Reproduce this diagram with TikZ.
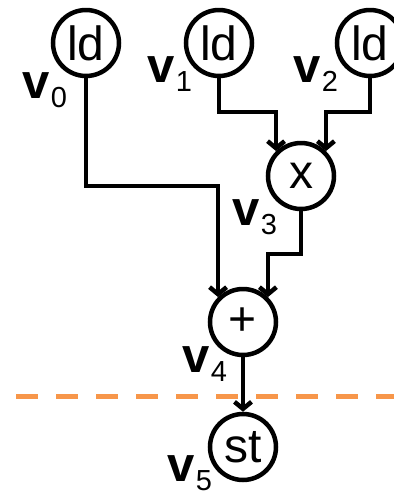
\documentclass[tikz,border=0pt]{standalone}
\usepackage{fontspec}
\setmainfont{Liberation Sans}
\usetikzlibrary{arrows.meta}
\definecolor{cutorange}{RGB}{247,150,74}
\newcommand{\vname}[1]{\textbf{v}\kern1.5pt\raisebox{-9pt}{\fontsize{29}{29}\selectfont #1}}

\begin{document}
\begin{tikzpicture}[x=1pt,y=-1pt,
	op/.style={circle,draw,line width=4.5pt,minimum size=66pt,inner sep=0pt,
		font=\fontsize{48}{48}\selectfont},
	lab/.style={anchor=base west,inner sep=0pt,font=\fontsize{49}{49}\selectfont},
	arr/.style={line width=4.5pt,-{Straight Barb[length=7pt,width=17pt]}}]
	\useasboundingbox (0,0) rectangle (394,496);
	% operations
	\node[op] (ld0) at (86,43) {ld};
	\node[op] (ld1) at (219,43) {ld};
	\node[op] (ld2) at (370,43) {ld};
	\node[op] (mul) at (301,176) {x};
	\node[op] (add) at (243,322) {+};
	\node[op] (st) at (243,447) {st};
	% value names
	\node[lab] (v0) at (22,98) {\vname{0}};
	\node[lab] (v1) at (147,82) {\vname{1}};
	\node[lab] (v2) at (293,82) {\vname{2}};
	\node[lab] (v3) at (232,225) {\vname{3}};
	\node[lab] (v4) at (182,372) {\vname{4}};
	\node[lab] (v5) at (167,481) {\vname{5}};
	% cut
	\draw[cutorange,line width=5pt,dash pattern=on 22pt off 18pt] (16,396) -- (394,396);
	% edges
	\draw[arr] (ld0.south) |- ([yshift=111pt]add.135) -- (add.135);
	\draw[arr] (ld1.south) |- ([yshift=39pt]mul.135) -- (mul.135);
	\draw[arr] (ld2.south) |- ([yshift=39pt]mul.45) -- (mul.45);
	\draw[arr] (mul.south) |- ([yshift=43pt]add.45) -- (add.45);
	\draw[arr] (add.south) -- (st.north);
\end{tikzpicture}
\end{document}
